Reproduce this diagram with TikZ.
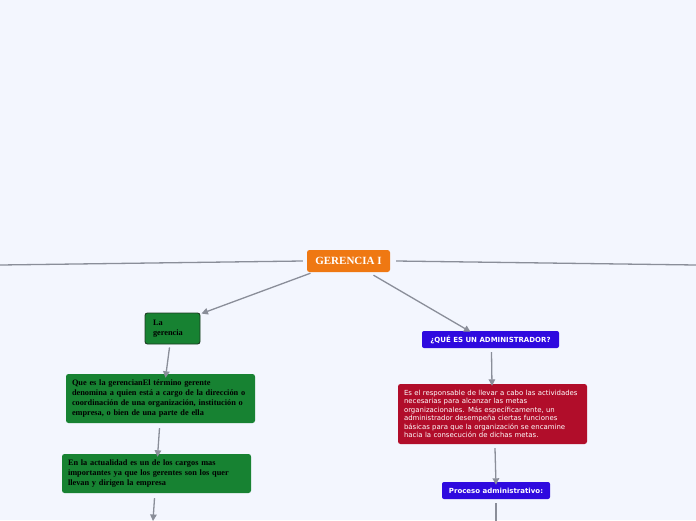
\documentclass[tikz,border=0pt]{standalone}
\usepackage{fontspec}
\setmainfont{Liberation Serif}
\newfontfamily\vfont{DejaVu Sans}
\usetikzlibrary{arrows.meta}
\definecolor{bg}{HTML}{F3F6FE}
\definecolor{orangec}{HTML}{EF7812}
\definecolor{greenc}{HTML}{178232}
\definecolor{greenb}{HTML}{1C3B22}
\definecolor{bluec}{HTML}{2F0ADF}
\definecolor{redc}{HTML}{B10D2A}
\definecolor{linec}{HTML}{8A8E99}
\tikzset{
  conn/.style={draw=linec, line width=1.3pt},
  arr/.style={conn, -{Triangle[length=6.5pt,width=6.5pt]}},
  gbox/.style={fill=greenc, rounded corners=2.5pt, align=left, text=black,
    font=\bfseries\fontsize{8.3}{10.3}\selectfont, inner xsep=6pt, inner ysep=0pt},
  bbox/.style={fill=bluec, rounded corners=2pt, text=white,
    font=\vfont\bfseries\fontsize{7}{8}\selectfont, inner sep=0pt},
}
\begin{document}
\begin{tikzpicture}[x=1pt,y=-1pt]
\fill[bg] (0,0) rectangle (696,520);
\useasboundingbox (0,0) rectangle (696,520);

% root
\node[fill=orangec, rounded corners=2.5pt, minimum width=83pt, minimum height=22pt, inner sep=0pt,
  text=white, font=\bfseries\fontsize{11}{12}\selectfont] (root) at (348.5,261) {GERENCIA I};

% left branch
\node[gbox, draw=greenb, line width=0.9pt, text width=39pt, minimum height=31pt, inner xsep=8pt] (lag) at (172.5,328.5) {La\\gerencia};
\node[gbox, text width=177pt, minimum height=49pt] (que) at (160.5,398.5)
 {Que es la gerencianEl término gerente\\denomina a quien está a cargo de la dirección o\\coordinación de una organización, institución o\\empresa, o bien de una parte de ella};
\node[gbox, text width=177pt, minimum height=39pt] (act) at (156.5,473.5)
 {En la actualidad es un de los cargos mas\\importantes ya que los gerentes son los quer\\llevan y dirigen la empresa};

% right branch
\node[bbox, minimum width=137pt, minimum height=17pt] (adm) at (490.5,339.5) {¿QUÉ ES UN ADMINISTRADOR?};
\node[fill=redc, rounded corners=2.5pt, text=white, align=left, text width=177pt, minimum height=60pt,
  inner xsep=6pt, inner ysep=0pt, font=\vfont\fontsize{6.95}{8.5}\selectfont] (res) at (492.5,414)
 {Es el responsable de llevar a cabo las actividades\\necesarias para alcanzar las metas\\organizacionales. Más específicamente, un\\administrador desempeña ciertas funciones\\básicas para que la organización se encamine\\hacia la consecución de dichas metas.};
\node[bbox, minimum width=108pt, minimum height=17pt] (pro) at (496,490.5) {Proceso administrativo:};

% free ends
\coordinate (lend) at (0,265);
\coordinate (rend) at (696,265);
\coordinate (actend) at (153,521);
\coordinate (proend) at (496,521);

% connectors
\draw[conn] (root.west) ++(-4pt,0) -- (lend);
\draw[conn] (root.east) ++(6pt,0) -- (rend);
\draw[arr] ([xshift=-38pt,yshift=-1pt]root.south) -- ([xshift=1pt,yshift=-1pt]lag.north east);
\draw[arr] ([xshift=25pt,yshift=-3pt]root.south) -- ([xshift=-20pt,yshift=-1pt]adm.north);
\draw[arr] ([xshift=-3pt,yshift=-3pt]lag.south) -- ([xshift=5pt,yshift=-4pt]que.north);
\draw[arr] ([xshift=-1pt,yshift=-5pt]que.south) -- ([xshift=1pt,yshift=-3pt]act.north);
\draw[arr] ([xshift=-2pt,yshift=-5pt]act.south) -- (actend);
\draw[arr] ([xshift=1pt,yshift=-4pt]adm.south) -- ([xshift=-0.5pt,yshift=-2pt]res.north);
\draw[arr] ([xshift=2.5pt,yshift=-4pt]res.south) -- ([yshift=-3pt]pro.north);
\draw[conn] ([yshift=-4pt]pro.south) -- (proend);
\end{tikzpicture}
\end{document}
